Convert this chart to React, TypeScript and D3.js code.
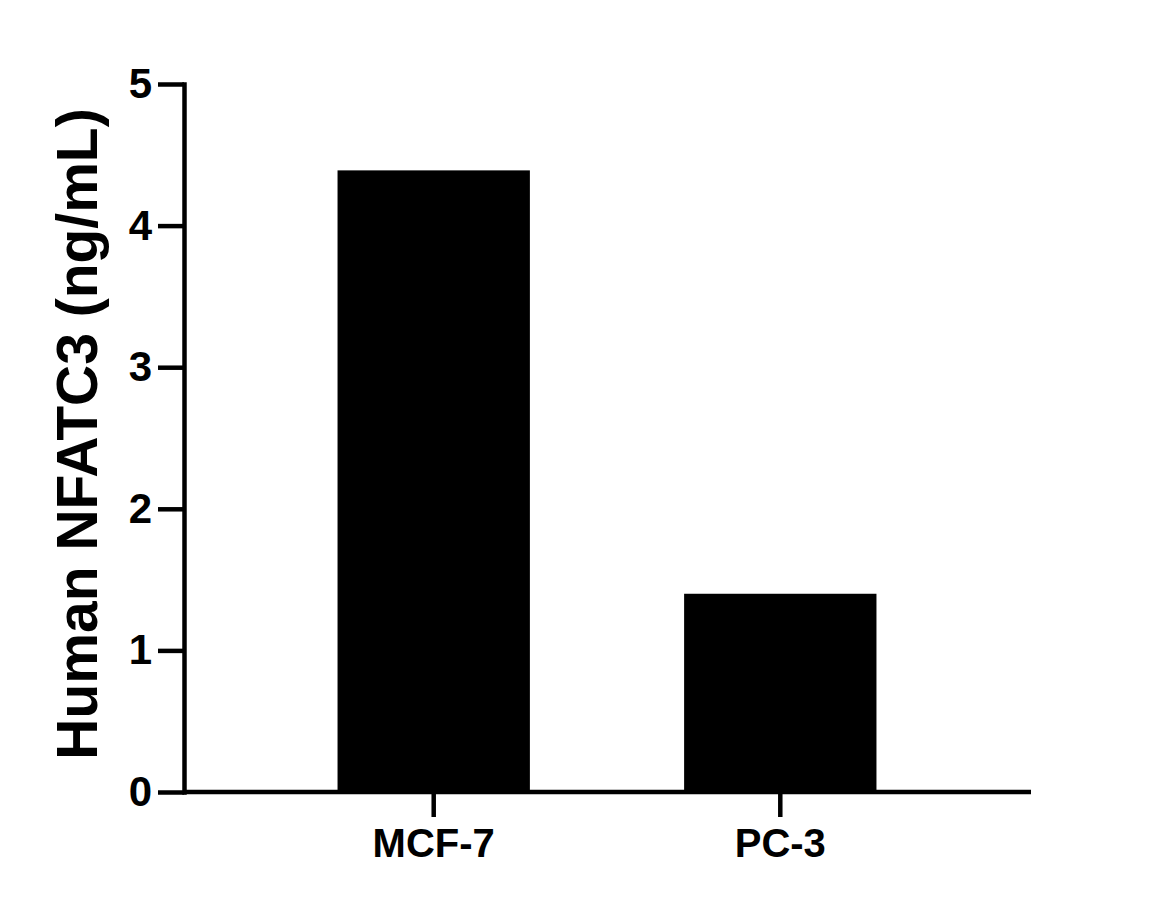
import { useEffect, useRef } from 'react';
import * as d3 from 'd3';

const categories = ['MCF-7', 'PC-3'];
const values = [4.39, 1.4];
const yTicks = [0, 1, 2, 3, 4, 5];
const yLabel = 'Human NFATC3 (ng/mL)';

const W = 1167;
const H = 908;
const FONT = '"Liberation Sans", Arial, sans-serif';

export default function App() {
  const svgRef = useRef<SVGSVGElement>(null);

  useEffect(() => {
    if (!svgRef.current) return;
    const svg = d3.select(svgRef.current);
    svg.selectAll('*').remove();

    const x = d3.scaleBand<string>()
      .domain(categories)
      .range([184, 1030])
      .paddingInner(0.445)
      .paddingOuter(0.443);

    const y = d3.scaleLinear().domain([0, 5]).range([792, 84]);

    // Bars
    svg.append('g')
      .selectAll('rect')
      .data(categories)
      .join('rect')
      .attr('x', d => x(d)!)
      .attr('y', (_, i) => y(values[i]))
      .attr('width', x.bandwidth())
      .attr('height', (_, i) => y(0) - y(values[i]))
      .attr('fill', '#000');

    // Y axis
    svg.append('g')
      .attr('transform', 'translate(184,0)')
      .call(d3.axisLeft(y).tickValues(yTicks).tickFormat(d3.format('d')).tickSize(26).tickSizeOuter(0).tickPadding(6))
      .call(ax => ax.select('.domain').attr('stroke-width', 4.5).attr('stroke-linecap', 'square'))
      .call(ax => ax.selectAll('.tick line').attr('stroke-width', 4.5))
      .call(ax => ax.selectAll('.tick text')
        .attr('font-family', FONT)
        .attr('font-weight', 700)
        .attr('font-size', 42)
        .attr('fill', '#000'));

    // X axis
    svg.append('g')
      .attr('transform', 'translate(0,792)')
      .call(d3.axisBottom(x).tickSize(25).tickSizeOuter(0).tickPadding(12))
      .call(ax => ax.select('.domain').attr('stroke-width', 4.5).attr('d', 'M184,0H1031'))
      .call(ax => ax.selectAll('.tick line').attr('stroke-width', 4.5))
      .call(ax => ax.selectAll('.tick text')
        .attr('font-family', FONT)
        .attr('font-weight', 700)
        .attr('font-size', 40)
        .attr('fill', '#000'));

    // Y axis title
    svg.append('text')
      .attr('transform', `translate(97,${(y(0) + y(5)) / 2 - 4}) rotate(-90)`)
      .attr('text-anchor', 'middle')
      .attr('font-family', FONT)
      .attr('font-weight', 700)
      .attr('font-size', 57)
      .attr('fill', '#000')
      .text(yLabel);
  }, []);

  return (
    <svg
      ref={svgRef}
      width={W}
      height={H}
      style={{ position: 'absolute', left: 0, top: 0, background: '#fff' }}
    />
  );
}
